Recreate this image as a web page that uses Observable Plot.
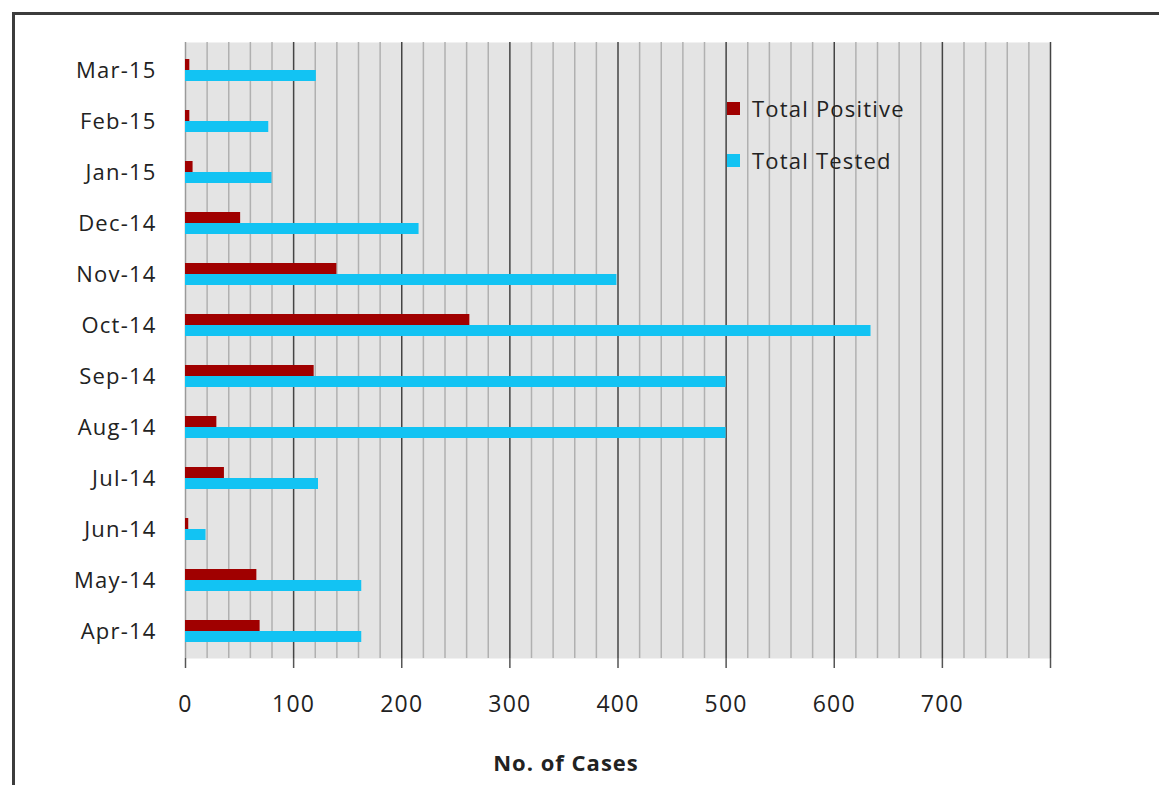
<!DOCTYPE html>
<html>
<head>
<meta charset="utf-8">
<script src="https://cdn.jsdelivr.net/npm/d3@7"></script>
<script src="https://cdn.jsdelivr.net/npm/@observablehq/plot@0.6"></script>
<style>
  html, body { margin: 0; padding: 0; background: #fff; overflow: hidden; }
  #wrap { position: relative; width: 1159px; height: 785px; font-family: "Open Sans", sans-serif; color: #222; }
  #border { position: absolute; left: 12px; top: 12px; width: 1200px; height: 820px; border: 3px solid #3c3c3c; box-sizing: border-box; }
  #chart { position: absolute; left: 0; top: 0; }
  #chart svg text { letter-spacing: 1.2px; }
  .legend { position: absolute; left: 727px; font-size: 22px; letter-spacing: 1.2px; display: flex; align-items: center; }
  .legend .sw { width: 13px; height: 13px; margin-right: 12px; }
  #xlabel { position: absolute; left: 566px; top: 762px; transform: translate(-50%, -50%); font-size: 22px; font-weight: bold; letter-spacing: 1px; white-space: nowrap; }
</style>
</head>
<body>
<div id="wrap">
  <div id="border"></div>
  <div id="chart"></div>
  <div id="legend"></div>
  <div id="xlabel"></div>
</div>
<script>
// Monthly test counts, April 2014 – March 2015
const months = ["Apr-14", "May-14", "Jun-14", "Jul-14", "Aug-14", "Sep-14", "Oct-14", "Nov-14", "Dec-14", "Jan-15", "Feb-15", "Mar-15"];
const totalPositive = [69, 66, 3, 36, 29, 119, 263, 140, 51, 7, 4, 4];
const totalTested = [163, 163, 19, 123, 500, 500, 634, 399, 216, 80, 77, 121];

const seriesNames = ["Total Positive", "Total Tested"];
const seriesColors = ["#a00000", "#12c3f3"];

const xTickLabels = [0, 100, 200, 300, 400, 500, 600, 700];
const xMajor = [0, 100, 200, 300, 400, 500, 600, 700, 800];
const xMinor = d3.range(20, 800, 20).filter(v => v % 100 !== 0);
const xAxisTitle = "No. of Cases";

const rows = months.map((m, i) => ({month: m, positive: totalPositive[i], tested: totalTested[i]}));

const chart = Plot.plot({
  width: 1159,
  height: 785,
  marginLeft: 185,
  marginRight: 109,
  marginTop: 42,
  marginBottom: 127,
  style: {fontFamily: "'Open Sans', sans-serif", background: "transparent", color: "#222"},
  x: {domain: [0, 800], label: null},
  y: {domain: months.slice().reverse(), paddingInner: 0.57, paddingOuter: 0.285, label: null},
  marks: [
    Plot.frame({fill: "#e4e4e4", stroke: null}),
    Plot.ruleX(xMinor, {stroke: "#b0b0b0", strokeWidth: 1.5}),
    Plot.ruleX([0], {stroke: "#9a9a9a", strokeWidth: 1.5}),
    Plot.ruleX(xMajor.filter(v => v > 0), {stroke: "#444", strokeWidth: 1.5}),
    Plot.barX(rows, {x: "positive", y: "month", fill: seriesColors[0], insetBottom: 11}),
    Plot.barX(rows, {x: "tested", y: "month", fill: seriesColors[1], insetTop: 11}),
    Plot.axisX({
      ticks: xMajor,
      tickSize: 10,
      tickPadding: 27,
      fontSize: 23,
      stroke: "#555",
      strokeWidth: 1.5,
      strokeOpacity: 1,
      tickFormat: d => xTickLabels.includes(d) ? String(d) : "",
      label: null
    }),
    Plot.axisY({tickSize: 0, tickPadding: 29, fontSize: 22, label: null})
  ]
});
document.getElementById("chart").append(chart);

// legend drawn inside the plot area
const legend = document.getElementById("legend");
const legendTops = [108, 160];
seriesNames.forEach((name, i) => {
  const item = document.createElement("div");
  item.className = "legend";
  item.style.top = (legendTops[i] - 15) + "px";
  item.style.height = "30px";
  const sw = document.createElement("div");
  sw.className = "sw";
  sw.style.background = seriesColors[i];
  const label = document.createElement("span");
  label.textContent = name;
  item.append(sw, label);
  legend.append(item);
});

document.getElementById("xlabel").textContent = xAxisTitle;
</script>
</body>
</html>
